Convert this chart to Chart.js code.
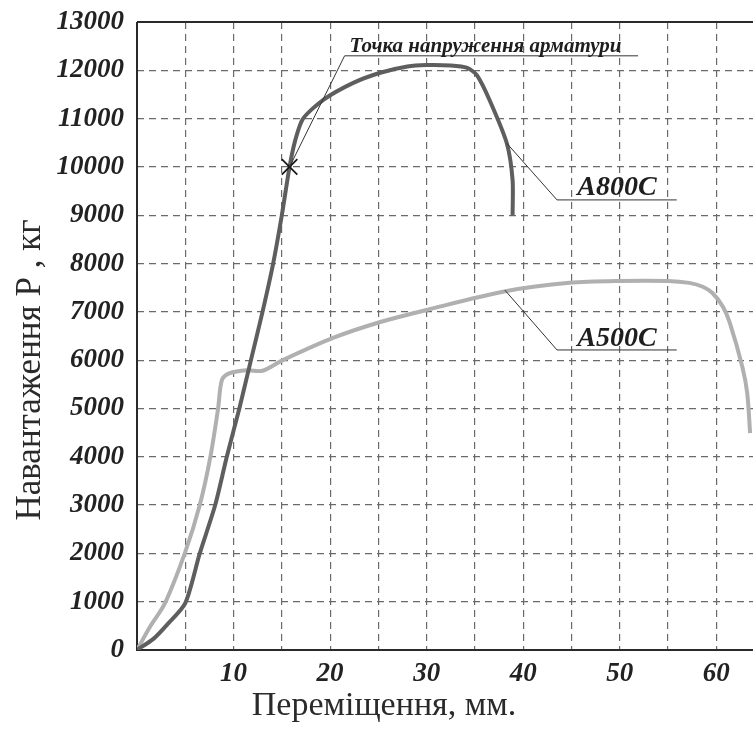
<!DOCTYPE html>
<html><head><meta charset="utf-8">
<script src="https://cdn.jsdelivr.net/npm/chart.js@4/dist/chart.umd.min.js"></script>
<style>html,body{margin:0;padding:0;background:#fff;overflow:hidden}#wrap{width:753px;height:731px}</style>
</head><body><div id="wrap"><canvas id="c" width="753" height="731"></canvas></div>
<script>
// ---- data ----
const xTickValues = [0, 5, 10, 15, 20, 25, 30, 35, 40, 45, 50, 55, 60];
const xLabeled = [10, 20, 30, 40, 50, 60];
const yTickValues = [0,1000,2000,3000,4000,5000,6000,7000,8000,9000,10000,11000,12000,13000];
const seriesNames = ['A800C', 'A500C'];
const a800X = [0, 1.7, 3.1, 5.0, 6.5, 8.1, 9.3, 10.6, 11.8, 13.0, 14.1, 15.0, 15.8, 16.4, 17.2, 19.3, 22.4, 25.2, 28.0, 30.0, 32.5, 34.2, 35.2, 36.5, 38.3, 38.9, 38.9];
const a800Y = [0, 230, 520, 970, 2000, 3000, 4000, 5000, 6000, 7000, 8000, 9000, 10000, 10560, 11000, 11390, 11740, 11950, 12080, 12110, 12100, 12050, 11900, 11390, 10490, 9730, 9000];
const a500X = [0, 1.35, 2.9, 5.0, 6.5, 7.6, 8.4, 8.8, 9.6, 11.4, 13.0, 15.1, 20.3, 25.2, 30.0, 38.3, 44.8, 50.0, 55.0, 57.2, 58.6, 59.6, 60.7, 61.4, 62.7, 63.2, 63.5];
const a500Y = [0, 480, 970, 2030, 3000, 4000, 5000, 5590, 5730, 5790, 5780, 6000, 6460, 6790, 7040, 7430, 7600, 7640, 7640, 7600, 7520, 7390, 7100, 6770, 5860, 5320, 4490];
const markX = [15.8];
const markY = [10000];
const noteText = 'Точка напруження арматури';
const xTitle = 'Переміщення, мм.';
const yTitle = 'Навантаження P , кг';

const toPts = (xs, ys) => xs.map((x, i) => ({x: x, y: ys[i]}));
const SERIF = '"Liberation Serif", "Times New Roman", serif';

const decor = {
  id: 'decor',
  beforeDatasetsDraw(chart) {
    const {ctx, chartArea: ca} = chart;
    ctx.save();
    ctx.strokeStyle = '#2a2a2a';
    ctx.lineWidth = 2;
    ctx.beginPath();
    ctx.moveTo(ca.left, ca.top); ctx.lineTo(ca.left, ca.bottom); ctx.lineTo(ca.right, ca.bottom);
    ctx.moveTo(ca.left, ca.top); ctx.lineTo(ca.right, ca.top);
    ctx.stroke();
    ctx.restore();
  },
  afterDatasetsDraw(chart) {
    const {ctx} = chart;
    const X = v => chart.scales.x.getPixelForValue(v);
    const Y = v => chart.scales.y.getPixelForValue(v);
    ctx.save();
    ctx.strokeStyle = '#333';
    ctx.lineWidth = 1;
    const leader = (pts) => {
      ctx.beginPath();
      pts.forEach((p, i) => i ? ctx.lineTo(X(p[0]), Y(p[1])) : ctx.moveTo(X(p[0]), Y(p[1])));
      ctx.stroke();
    };
    leader([[markX[0], markY[0]], [21.5, 12300], [51.9, 12300]]);
    leader([[38.3, 10490], [43.5, 9317], [55.9, 9317]]);
    leader([[38.1, 7450], [43.5, 6211], [55.9, 6211]]);
    ctx.fillStyle = '#1e1e1e';
    ctx.textAlign = 'left';
    ctx.textBaseline = 'alphabetic';
    ctx.font = 'italic bold 21px ' + SERIF;
    ctx.fillText(noteText, X(22.0), Y(12370));
    ctx.font = 'italic bold 28px ' + SERIF;
    ctx.fillText(seriesNames[0], X(45.6), Y(9420));
    ctx.fillText(seriesNames[1], X(45.6), Y(6290));
    // axis titles
    ctx.fillStyle = '#2a2a2a';
    ctx.font = '34px ' + SERIF;
    ctx.textAlign = 'center';
    ctx.fillText(xTitle, 384, 715);
    ctx.translate(40, 370);
    ctx.rotate(-Math.PI / 2);
    ctx.font = '35px ' + SERIF;
    ctx.fillText(yTitle, 0, 0);
    ctx.restore();
  }
};

new Chart(document.getElementById('c'), {
  type: 'scatter',
  data: {
    datasets: [
      {label: 'mark', data: toPts(markX, markY), showLine: false, pointStyle: 'crossRot', pointRadius: 11, pointBorderColor: '#1a1a1a', pointBorderWidth: 1.8, pointBackgroundColor: '#1a1a1a'},
      {label: seriesNames[0], data: toPts(a800X, a800Y), showLine: true, borderColor: '#5e5e5e', borderWidth: 4, pointRadius: 0, tension: 0.25, fill: false},
      {label: seriesNames[1], data: toPts(a500X, a500Y), showLine: true, borderColor: '#b0b0b0', borderWidth: 4, pointRadius: 0, tension: 0.3, fill: false}
    ]
  },
  options: {
    responsive: false,
    animation: false,
    events: [],
    layout: {autoPadding: false, padding: {top: 22, right: 0, left: 0, bottom: 0}},
    plugins: {legend: {display: false}, tooltip: {enabled: false}},
    scales: {
      x: {
        type: 'linear', min: 0, max: 63.8,
        afterBuildTicks: s => { s.ticks = xTickValues.map(v => ({value: v})); },
        afterFit: s => { s.height = 81; s.paddingLeft = 0; s.paddingRight = 0; },
        grid: {color: '#6a6a6a', lineWidth: 1.2, drawTicks: false, borderDash: [7, 5]},
        border: {display: false, dash: [7, 5]},
        ticks: {
          padding: 8, color: '#222',
          font: {family: SERIF, size: 27, style: 'italic', weight: 'bold'},
          callback: v => xLabeled.includes(v) ? String(v) : ''
        }
      },
      y: {
        type: 'linear', min: 0, max: 13000,
        afterBuildTicks: s => { s.ticks = yTickValues.map(v => ({value: v})); },
        afterFit: s => { s.width = 137; s.paddingTop = 0; s.paddingBottom = 0; },
        grid: {color: '#6a6a6a', lineWidth: 1.2, drawTicks: false, borderDash: [7, 5]},
        border: {display: false, dash: [7, 5]},
        ticks: {
          padding: 13, color: '#222',
          font: {family: SERIF, size: 27, style: 'italic', weight: 'bold'},
          callback: v => String(v)
        }
      }
    }
  },
  plugins: [decor]
});
</script></body></html>
